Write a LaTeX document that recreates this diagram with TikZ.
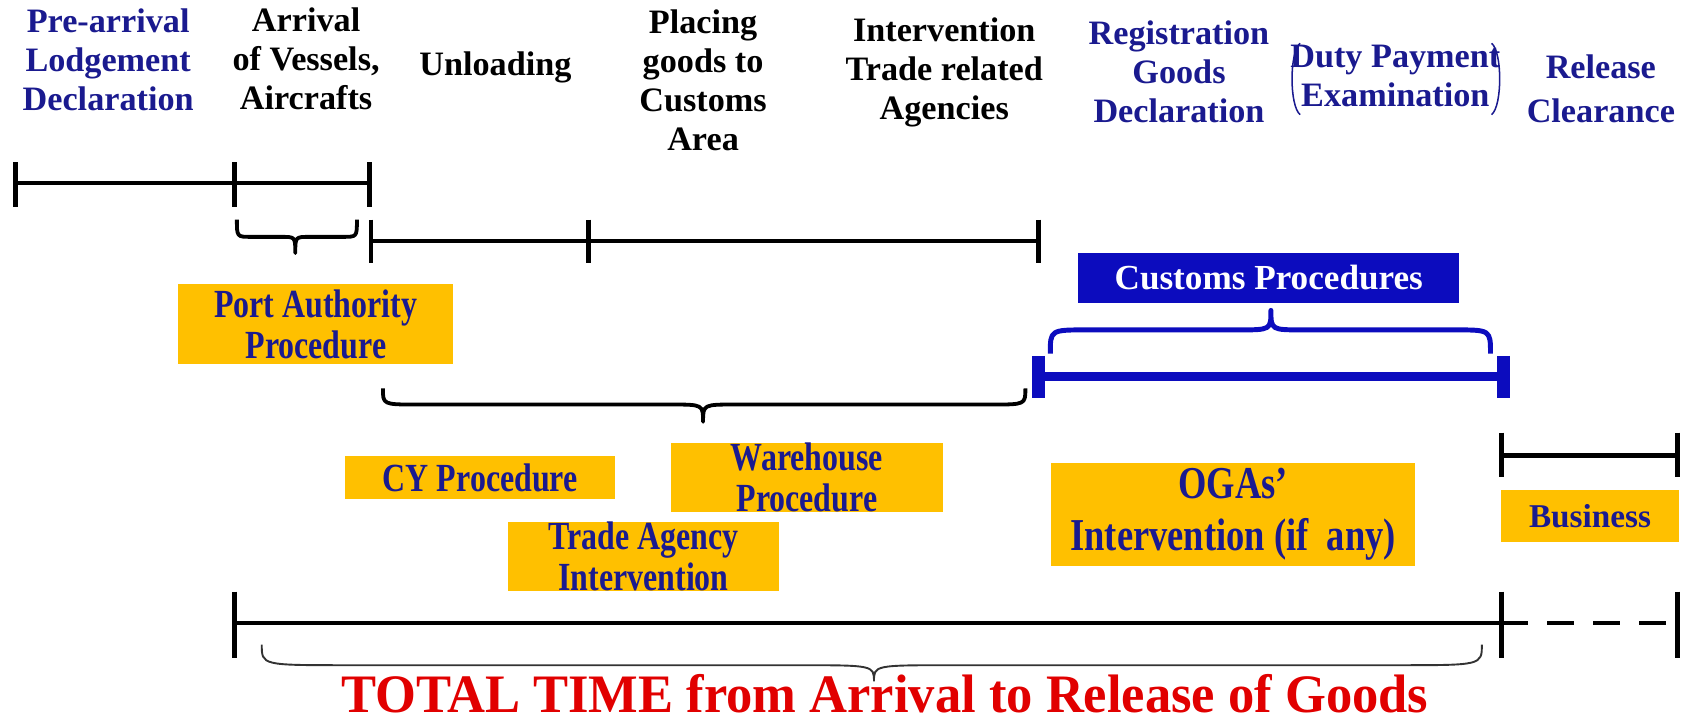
\documentclass[tikz,border=0pt]{standalone}
\usepackage{fontspec}
\setmainfont{Liberation Serif}
\newfontfamily\condfont[FakeStretch=0.8]{Liberation Serif}
\newfontfamily\totfont[FakeStretch=0.97]{Liberation Serif}
\definecolor{navy}{RGB}{26,26,143}
\definecolor{boxyel}{RGB}{255,192,0}
\definecolor{cblue}{RGB}{12,12,190}
\definecolor{tred}{RGB}{225,0,0}
\begin{document}
\begin{tikzpicture}[x=0.02cm,y=-0.02cm,
  lbl/.style={align=center,font=\fontsize{18}{20.5}\selectfont\bfseries,inner sep=0pt},
  bluelbl/.style={lbl,text=navy},
  ybox/.style={fill=boxyel,text=navy,align=center,inner sep=0pt,
     font=\condfont\fontsize{21}{21.5}\selectfont\bfseries},
  bar/.style={line width=2.3pt},
  tick/.style={line width=2.6pt},
  bluebar/.style={line width=4.8pt,cblue},
  bluetick/.style={line width=6.5pt,cblue},
  bracestyle/.style={line width=2pt,line join=round},
  thinbrace/.style={line width=1pt,black!80}
]
\useasboundingbox (0,0) rectangle (1568,671);

% ---------- top labels ----------
\node[bluelbl] (pre) at (100,55) {Pre-arrival\\Lodgement\\Declaration};
\node[lbl] (arr) at (283,54) {Arrival\\of Vessels,\\Aircrafts};
\node[lbl] (unl) at (458,62) {Unloading};
\node[lbl] (plc) at (650,74) {Placing\\goods to\\Customs\\Area};
\node[lbl] (itv) at (873,67) {Intervention\\Trade related\\Agencies};
\node[bluelbl] (reg) at (1090,66) {Registration\\Goods\\Declaration};
\node[bluelbl] (duty) at (1290,70) {Duty Payment\\Examination};
\node[bluelbl,font=\fontsize{18}{23}\selectfont\bfseries] (rel) at (1480,82) {Release\\Clearance};
\draw[navy,line width=0.8pt] (1202,40) .. controls (1192,48) and (1192,98) .. (1202,106);
\draw[navy,line width=0.8pt] (1379,40) .. controls (1389,48) and (1389,98) .. (1379,106);

% ---------- top timeline ----------
\coordinate (t1) at (14,169);
\coordinate (t2) at (217,169);
\coordinate (t3) at (342,169);
\draw[bar] (t1) -- (t3);
\foreach \c in {t1,t2,t3} \draw[tick] ([yshift=0.38cm]\c) -- ([yshift=-0.44cm]\c);
\draw[bracestyle] (219,203) .. controls (219,219) and (219,219) .. (232,219) -- (260,219)
  .. controls (273,219) .. (273,234) .. controls (273,219) .. (286,219) -- (317,219)
  .. controls (330,219) and (330,219) .. (330,203);

% ---------- second timeline ----------
\coordinate (u1) at (343,223);
\coordinate (u2) at (544,223);
\coordinate (u3) at (960,223);
\draw[bar] (u1) -- (u3);
\foreach \c in {u1,u2,u3} \draw[tick] ([yshift=0.4cm]\c) -- ([yshift=-0.4cm]\c);

% ---------- port authority ----------
\node[ybox,minimum width=5.08cm,minimum height=1.48cm] (port) at (292,300) {Port Authority\\Procedure};
\draw[bracestyle] (354,359) .. controls (354,374) and (354,374) .. (385,374) -- (620,374)
  .. controls (650,374) .. (650,390) .. controls (650,374) .. (680,374) -- (917,374)
  .. controls (948,374) and (948,374) .. (948,359);

% ---------- customs ----------
\node[fill=cblue,text=white,font=\fontsize{18.5}{20}\selectfont\bfseries,
      minimum width=7.04cm,minimum height=0.92cm,inner sep=0pt] (cust) at (1173,257) {Customs Procedures};
\draw[bracestyle,cblue,line width=2.6pt] (971,327) .. controls (971,305) and (971,305) .. (1005,305) -- (1145,305)
  .. controls (1175,305) .. (1175,287) .. controls (1175,305) .. (1205,305) -- (1345,305)
  .. controls (1378,305) and (1378,305) .. (1378,327);
\coordinate (b1) at (960,348);
\coordinate (b2) at (1390,348);
\draw[bluebar] (b1) -- (b2);
\foreach \c in {b1,b2} \draw[bluetick] ([yshift=0.38cm]\c) -- ([yshift=-0.4cm]\c);

% ---------- business ----------
\coordinate (r1) at (1388,421);
\coordinate (r2) at (1551,421);
\draw[bar] (r1) -- (r2);
\foreach \c in {r1,r2} \draw[tick] ([yshift=0.42cm]\c) -- ([yshift=-0.4cm]\c);
\node[ybox,font=\fontsize{17.5}{19}\selectfont\bfseries,minimum width=3.28cm,minimum height=0.96cm] (bus) at (1470,477) {Business};

% ---------- middle boxes ----------
\node[ybox,font=\condfont\fontsize{24}{27}\selectfont\bfseries,minimum width=6.72cm,minimum height=1.9cm] (oga) at (1140,475.5) {OGAs’\\Intervention (if\ \ any)};
\node[ybox,minimum width=5.0cm,minimum height=0.78cm] (cy) at (444,441.5) {CY Procedure};
\node[ybox,minimum width=5.02cm,minimum height=1.22cm] (wh) at (746,441.5) {Warehouse\\Procedure};
\node[ybox,minimum width=5.02cm,minimum height=1.26cm] (trade) at (595,514.5) {Trade Agency\\Intervention};

% ---------- bottom timeline ----------
\coordinate (s1) at (217,576);
\coordinate (s2) at (1388,576);
\coordinate (s3) at (1551,576);
\draw[bar] (s1) -- (s2);
\draw[bar,dash pattern=on 0.5cm off 0.35cm] (s2) -- (s3);
\foreach \c in {s1,s2,s3} \draw[tick] ([yshift=0.58cm]\c) -- ([yshift=-0.64cm]\c);
\draw[thinbrace] (242,596) .. controls (242,615) and (242,615) .. (320,615) -- (735,615)
  .. controls (808,615) .. (808,630) .. controls (808,615) .. (881,615) -- (1292,615)
  .. controls (1370,615) and (1370,615) .. (1370,596);
\node[text=tred,font=\totfont\fontsize{28.5}{29}\selectfont\bfseries,inner sep=0pt,anchor=base] (total) at (818,659) {TOTAL TIME from Arrival to Release of Goods};
\end{tikzpicture}
\end{document}
